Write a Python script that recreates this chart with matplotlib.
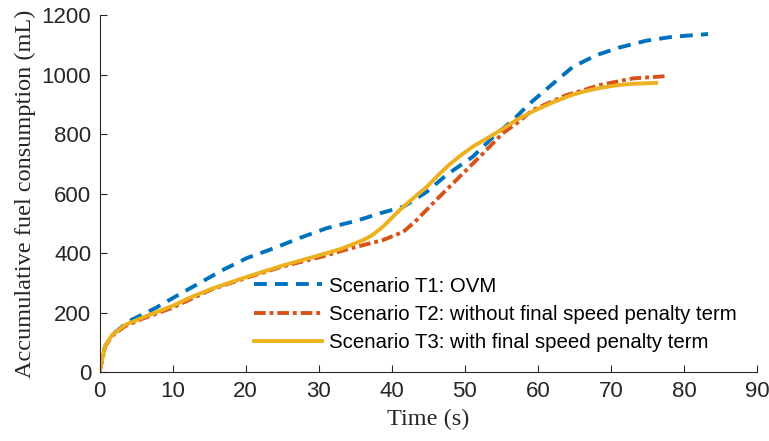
import matplotlib
matplotlib.use("Agg")
import matplotlib.pyplot as plt

# --- Data ---
t_ovm = [0, 0.75, 1.7, 3.9, 7.6, 10.8, 14, 16.9, 20.2, 23.8, 27.5, 31.1, 35.2,
         38.4, 41.6, 44.8, 47.5, 51.1, 53.9, 56.6, 58.9, 62.1, 64.8, 68, 71.2,
         74.9, 78.5, 83.3]
fuel_ovm = [0, 86, 125, 170, 215, 260, 304, 344, 384, 416, 452, 484, 509,
            534, 556, 606, 663, 724, 791, 847, 903, 970, 1026, 1065, 1091,
            1114, 1127, 1136]

t_nopen = [0, 0.75, 1.7, 3.5, 6.2, 9.9, 15.3, 20.2, 25, 30.7, 34.3, 38.8, 41.6,
           43.4, 46.1, 49.3, 52.5, 55.2, 57.1, 59.3, 63.9, 66.3, 68.5, 70.8,
           73, 77.8]
fuel_nopen = [0, 86, 122, 155, 183, 216, 278, 318, 355, 390, 416, 444, 472,
              511, 579, 657, 735, 803, 836, 881, 931, 948, 965, 976, 987, 995]

t_pen = [0, 0.75, 1.7, 3.5, 6.2, 9.9, 12.5, 15.3, 20.1, 25, 30.2, 33, 36.1,
         37.3, 38.8, 41.1, 43, 44.8, 46.6, 48, 49.8, 51.1, 53.4, 55.7, 57.1,
         59.3, 62, 64.5, 66.3, 68.5, 70.8, 73, 76.2]
fuel_pen = [0, 86, 125, 159, 187, 222, 252, 280, 320, 358, 394, 414, 444,
            460, 489, 545, 586, 623, 668, 700, 735, 758, 791, 825, 848,
            876, 906, 930, 943, 955, 964, 969, 972]

labels = ["Scenario T1: OVM",
          "Scenario T2: without final speed penalty term",
          "Scenario T3: with final speed penalty term"]

# MATLAB default colours
BLUE = "#0072BD"
ORANGE = "#D95319"
YELLOW = "#EDB120"

plt.rcParams["font.family"] = ["Liberation Sans", "DejaVu Sans"]

fig = plt.figure(figsize=(7.69, 4.41), dpi=100)
ax = fig.add_axes([0.1294, 0.1558, 0.8550, 0.8102])

lw = 2.8
ax.plot(t_ovm, fuel_ovm, color=BLUE, lw=lw, ls=(0, (3.3, 2.1)), label=labels[0])
ax.plot(t_nopen, fuel_nopen, color=ORANGE, lw=lw, ls=(0, (3.0, 1.0, 1.0, 1.0)),
        label=labels[1])
ax.plot(t_pen, fuel_pen, color=YELLOW, lw=lw, ls="-", label=labels[2])

ax.set_xlim(0, 90)
ax.set_ylim(0, 1200)
ax.set_xticks(range(0, 91, 10))
ax.set_yticks(range(0, 1201, 200))

for side in ("top", "right"):
    ax.spines[side].set_visible(False)
for side in ("left", "bottom"):
    ax.spines[side].set_color("#262626")
    ax.spines[side].set_linewidth(0.8)
ax.tick_params(direction="in", length=5, width=0.8, colors="#262626",
               labelsize=16, labelcolor="#262626", pad=6)

serif = ["Liberation Serif", "DejaVu Serif"]
ax.set_xlabel("Time (s)", family=serif, fontsize=17.5, color="#262626", labelpad=5)
ax.set_ylabel("Accumulative fuel consumption (mL)", family=serif, fontsize=17.5,
              color="#262626", labelpad=4)

ax.legend(loc="lower right", bbox_to_anchor=(1.0, 0.0), frameon=False,
          fontsize=14.7, handlelength=3.3, handletextpad=0.35, labelspacing=0.45,
          borderaxespad=0.6)

fig.savefig("out.png", dpi=100)
